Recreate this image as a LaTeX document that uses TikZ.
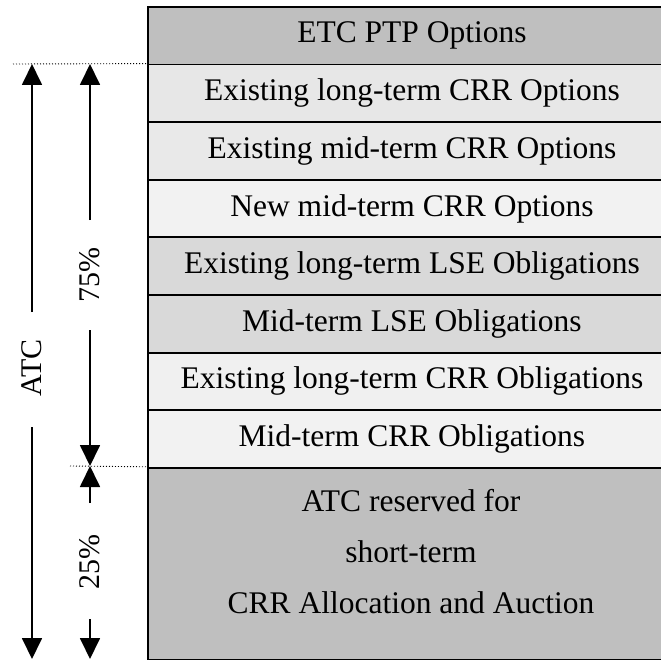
\documentclass[tikz,border=0pt]{standalone}
\usepackage{fontspec}
\setmainfont{Liberation Serif}
\usetikzlibrary{arrows.meta}
\definecolor{gA}{gray}{0.75}
\definecolor{gB}{gray}{0.905}
\definecolor{gC}{gray}{0.915}
\definecolor{gD}{gray}{0.95}
\definecolor{gE}{gray}{0.85}
\definecolor{gF}{gray}{0.94}
\begin{document}
\begin{tikzpicture}[x=1pt,y=-1pt,
  rowbox/.style={draw=black, line width=1.9pt, minimum width=528pt, minimum height=57.6pt,
    anchor=north west, inner sep=0pt, font=\fontsize{31.5}{36}\selectfont},
  dimarrow/.style={line width=1.8pt, -{Triangle[length=21pt,width=20pt]}},
  sidelab/.style={rotate=90, font=\fontsize{30}{34}\selectfont, inner sep=0pt},
  dotline/.style={line width=0.9pt, dash pattern=on 1pt off 2pt}]
\useasboundingbox (0,0) rectangle (660,660);
% rows
\node[rowbox, fill=gA] (r1) at (147,6) {ETC PTP Options};
\node[rowbox, fill=gB] (r2) at (147,63.6) {Existing long-term CRR Options};
\node[rowbox, fill=gC] (r3) at (147,121.2) {Existing mid-term CRR Options};
\node[rowbox, fill=gD] (r4) at (147,178.8) {New mid-term CRR Options};
\node[rowbox, fill=gE] (r5) at (147,236.4) {Existing long-term LSE Obligations};
\node[rowbox, fill=gE] (r6) at (147,294) {Mid-term LSE Obligations};
\node[rowbox, fill=gF] (r7) at (147,351.6) {Existing long-term CRR Obligations};
\node[rowbox, fill=gD] (r8) at (147,409.2) {Mid-term CRR Obligations};
\node[rowbox, fill=gA, minimum height=192pt] (r9) at (147,466.8) {};
\node[font=\fontsize{31.5}{51}\selectfont, align=center, inner sep=0pt] (t9) at (411,552)
  {ATC reserved for\\short-term\\CRR Allocation and Auction};
% dotted guide lines
\coordinate (dT) at (13,64);
\coordinate (dB) at (70,466);
\draw[dotline] (dT) -- (r2.north west);
\draw[dotline] (dB) -- (r9.north west);
% ATC dimension
\coordinate (a1) at (32,312);
\coordinate (a2) at (32,64);
\coordinate (a3) at (32,427);
\coordinate (a4) at (32,659);
\draw[dimarrow] (a1) -- (a2);
\draw[dimarrow] (a3) -- (a4);
\node[sidelab] (atc) at (32,368) {ATC};
% 75% dimension
\coordinate (b1) at (90,220);
\coordinate (b2) at (90,64);
\coordinate (b3) at (90,330);
\coordinate (b4) at (90,466);
\draw[dimarrow] (b1) -- (b2);
\draw[dimarrow] (b3) -- (b4);
\node[sidelab] (p75) at (90,275) {75\%};
% 25% dimension
\coordinate (c1) at (90,503);
\coordinate (c2) at (90,466);
\coordinate (c3) at (90,619);
\coordinate (c4) at (90,659);
\draw[dimarrow] (c1) -- (c2);
\draw[dimarrow] (c3) -- (c4);
\node[sidelab] (p25) at (90,562) {25\%};
\end{tikzpicture}
\end{document}
